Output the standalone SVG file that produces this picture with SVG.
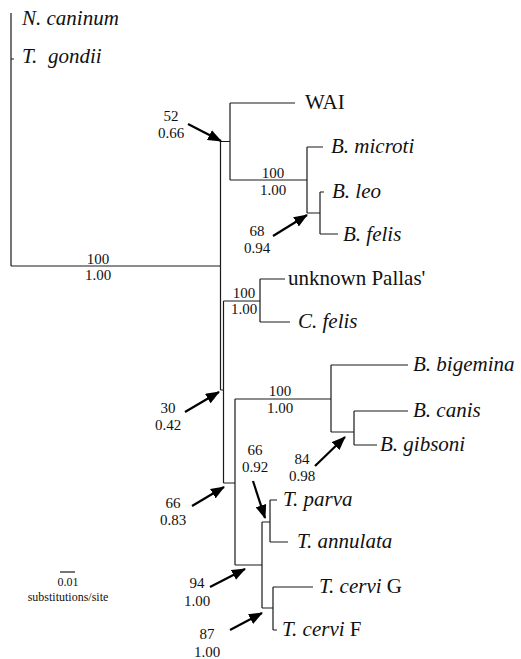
<svg xmlns="http://www.w3.org/2000/svg" width="521" height="659" viewBox="0 0 521 659">
<style>
text{font-family:"Liberation Serif","Times New Roman","DejaVu Serif",serif;fill:#111}
.sp{font-size:21px;font-style:italic}
.up{font-size:21px}
.n{font-size:15px;text-anchor:middle}
.sc{font-size:12px;text-anchor:middle}
.br{fill:none;stroke:#1a1a1a;stroke-width:1.2}
.ar{fill:none;stroke:#000;stroke-width:2.2}
</style>
<defs>
<marker id="ah" markerUnits="userSpaceOnUse" markerWidth="14" markerHeight="11" refX="13" refY="5.5" orient="auto">
<path d="M0,0 L14,5.5 L0,11 z" fill="#000"/>
</marker>
</defs>
<g id="connectors">
<path class="br" d="M11,13 V266 M11,59 H14 M11,266 H220.5"/>
<path class="br" d="M220.5,141.5 V390 M220.5,141.5 H230 M230,103 V180 M230,103 H295 M230,180 H307"/>
<path class="br" d="M307,147 V213 M307,147 H323 M307,213 H320 M320,192 V234 M320,192 H324 M320,234 H338"/>
<path class="br" d="M220.5,390 H223.5 M223.5,301 V483 M223.5,301 H260 M260,279 V322 M260,279 H285 M260,322 H290"/>
<path class="br" d="M223.5,483 H235 M235,399 V565 M235,399 H331 M331,365 V432 M331,365 H408 M331,432 H354 M354,411 V445 M354,411 H408 M354,445 H377"/>
<path class="br" d="M235,565 H262 M262,522 V608 M262,522 H270 M270,500 V542 M270,500 H277 M270,542 H288 M262,608 H273 M273,587 V630 M273,587 H313 M273,630 H277"/>
<path class="br" d="M60,572 H75"/>
<g id="arrows">
<line class="ar" x1="188" y1="124" x2="221" y2="141" marker-end="url(#ah)"/>
<line class="ar" x1="273" y1="236" x2="307" y2="215" marker-end="url(#ah)"/>
<line class="ar" x1="185" y1="412" x2="219" y2="392" marker-end="url(#ah)"/>
<line class="ar" x1="192" y1="506" x2="224" y2="487" marker-end="url(#ah)"/>
<line class="ar" x1="210" y1="587" x2="245" y2="569" marker-end="url(#ah)"/>
<line class="ar" x1="230" y1="630" x2="262" y2="613" marker-end="url(#ah)"/>
<line class="ar" x1="253" y1="481" x2="265" y2="518" marker-end="url(#ah)"/>
<line class="ar" x1="315" y1="466" x2="345" y2="437" marker-end="url(#ah)"/>
</g>
</g>
<g id="taxa">
<g id="n-caninum"><text class="sp" x="22" y="25">N. caninum</text></g>
<g id="t-gondii"><text class="sp" x="22" y="63">T.</text><text class="sp" x="48" y="63">gondii</text></g>
<g id="wai"><text class="up" x="305" y="109">WAI</text></g>
<g id="b-microti"><text class="sp" x="331" y="153">B. microti</text></g>
<g id="b-leo"><text class="sp" x="332" y="198">B. leo</text></g>
<g id="b-felis"><text class="sp" x="343" y="241">B. felis</text></g>
<g id="pallas"><text class="up" x="288" y="285">unknown Pallas'</text></g>
<g id="c-felis"><text class="sp" x="298" y="328">C. felis</text></g>
<g id="b-bigemina"><text class="sp" x="413" y="371">B. bigemina</text></g>
<g id="b-canis"><text class="sp" x="413" y="417">B. canis</text></g>
<g id="b-gibsoni"><text class="sp" x="380" y="451">B. gibsoni</text></g>
<g id="t-parva"><text class="sp" x="283" y="506">T. parva</text></g>
<g id="t-annulata"><text class="sp" x="297" y="548">T. annulata</text></g>
<g id="t-cervi-g"><text class="sp" x="319" y="593">T. cervi <tspan font-style="normal">G</tspan></text></g>
<g id="t-cervi-f"><text class="sp" x="282" y="636">T. cervi <tspan font-style="normal">F</tspan></text></g>
</g>
<g id="support">
<text class="n" x="98" y="264">100</text><text class="n" x="98" y="280">1.00</text>
<text class="n" x="171" y="121">52</text><text class="n" x="171" y="138">0.66</text>
<text class="n" x="273" y="178">100</text><text class="n" x="273" y="195">1.00</text>
<text class="n" x="257" y="236">68</text><text class="n" x="257" y="253">0.94</text>
<text class="n" x="244" y="298">100</text><text class="n" x="244" y="314">1.00</text>
<text class="n" x="280" y="396">100</text><text class="n" x="280" y="413">1.00</text>
<text class="n" x="168" y="413">30</text><text class="n" x="168" y="430">0.42</text>
<text class="n" x="255" y="455">66</text><text class="n" x="255" y="472">0.92</text>
<text class="n" x="302" y="464">84</text><text class="n" x="302" y="481">0.98</text>
<text class="n" x="173" y="508">66</text><text class="n" x="173" y="525">0.83</text>
<text class="n" x="197" y="588">94</text><text class="n" x="197" y="606">1.00</text>
<text class="n" x="207" y="639">87</text><text class="n" x="207" y="657">1.00</text>
</g>
<g id="scale">
<text class="sc" x="68" y="586">0.01</text>
<text class="sc" x="68" y="601">substitutions/site</text>
</g>
</svg>
